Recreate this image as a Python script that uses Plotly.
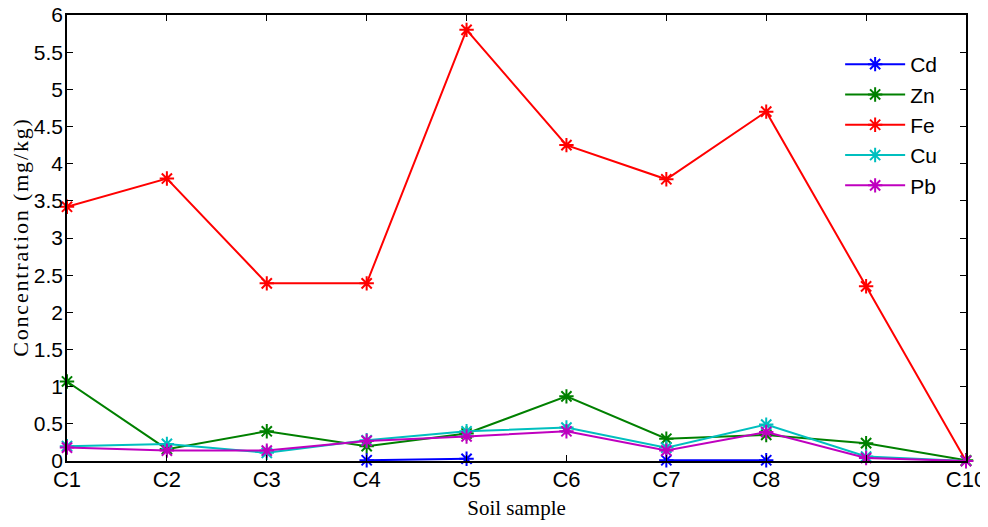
import plotly.graph_objects as go

samples = ["C1", "C2", "C3", "C4", "C5", "C6", "C7", "C8", "C9", "C10"]
cd = [None, None, None, 0.01, 0.03, None, 0.01, 0.01, None, None]
zn = [1.07, 0.16, 0.40, 0.20, 0.37, 0.87, 0.30, 0.35, 0.24, 0.01]
fe = [3.42, 3.80, 2.39, 2.39, 5.80, 4.25, 3.79, 4.70, 2.35, 0.0]
cu = [0.20, 0.23, 0.11, 0.28, 0.40, 0.45, 0.18, 0.49, 0.06, 0.0]
pb = [0.18, 0.14, 0.14, 0.27, 0.33, 0.40, 0.14, 0.39, 0.04, 0.0]
y_ticks = [0, 0.5, 1, 1.5, 2, 2.5, 3, 3.5, 4, 4.5, 5, 5.5, 6]
y_tick_labels = ["0", "0.5", "1", "1.5", "2", "2.5", "3", "3.5", "4", "4.5", "5", "5.5", "6"]
y_title = "Concentration (mg/kg)"
x_title = "Soil sample"

series = [
    ("Cd", cd, "#0000FF"),
    ("Zn", zn, "#008000"),
    ("Fe", fe, "#FF0000"),
    ("Cu", cu, "#00BFBF"),
    ("Pb", pb, "#BF00BF"),
]

xs = list(range(len(samples)))
fig = go.Figure()
for name, vals, col in series:
    fig.add_trace(go.Scatter(
        x=xs, y=vals, name=name, mode="lines+markers",
        connectgaps=False, cliponaxis=False,
        line=dict(color=col, width=2),
        marker=dict(symbol="asterisk-open", size=12, color=col,
                    line=dict(color=col, width=2)),
    ))

axis_common = dict(
    showline=True, linecolor="black", linewidth=1.5, mirror="ticks",
    ticks="inside", ticklen=6, tickcolor="black", tickwidth=1,
    showgrid=False, zeroline=False, automargin=False,
    ticklabeloverflow="allow",
)

spaced_y_title = "\u200a".join(y_title)

fig.update_xaxes(
    range=[0, 9], tickvals=xs, ticktext=samples,
    tickfont=dict(family="Liberation Sans Narrow, Arial Narrow, Liberation Sans", size=22, color="black"),
    title=dict(text=x_title, font=dict(family="Liberation Serif, Times New Roman", size=21, color="black"), standoff=9),
    ticklabelstandoff=-2,
    **axis_common,
)
fig.update_yaxes(
    range=[0, 6], tickvals=y_ticks, ticktext=y_tick_labels,
    tickfont=dict(family="Liberation Sans Narrow, Arial Narrow, Liberation Sans", size=21, color="black"),
    title=dict(text=spaced_y_title, font=dict(family="Liberation Serif, Times New Roman", size=22, color="black"), standoff=10),
    ticklabelstandoff=-2,
    **axis_common,
)

fig.update_layout(
    width=980, height=519,
    margin=dict(l=59, r=22, t=7, b=66),
    plot_bgcolor="white", paper_bgcolor="white",
    legend=dict(
        x=0.86, y=0.935, xanchor="left", yanchor="top",
        font=dict(family="Liberation Sans Narrow, Arial Narrow, Liberation Sans", size=21, color="black"),
        bgcolor="rgba(255,255,255,0)", borderwidth=0,
        tracegroupgap=0, itemwidth=60,
    ),
    showlegend=True,
)

fig.write_html("out.html")
